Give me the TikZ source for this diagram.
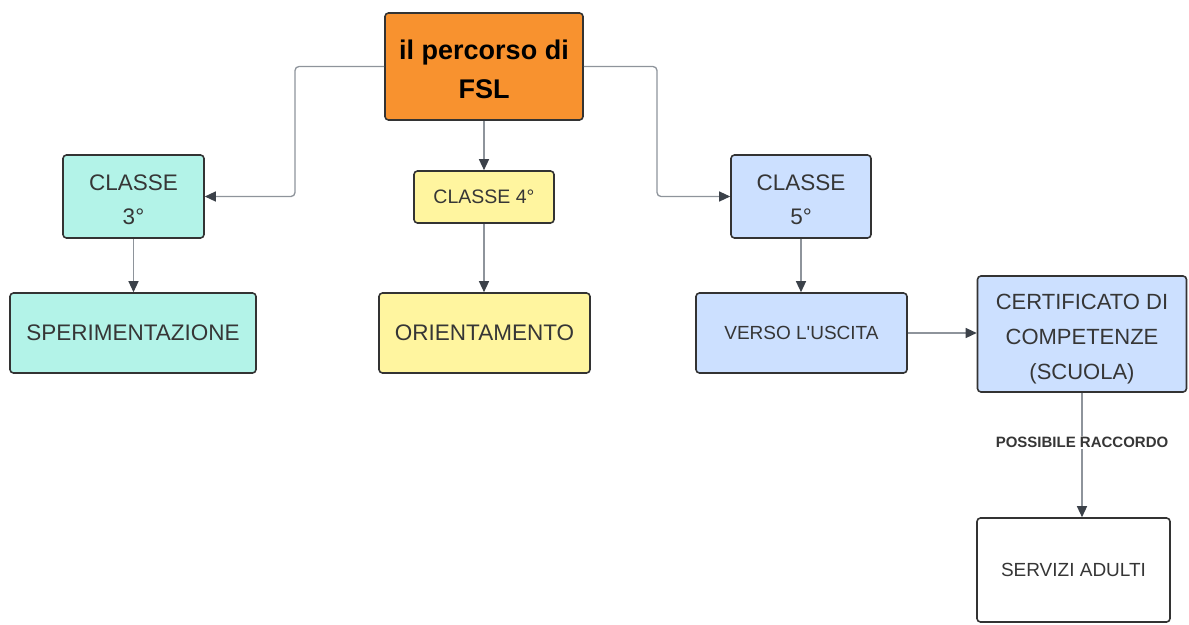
\documentclass[tikz,border=0pt]{standalone}
\usepackage{fontspec}
\setmainfont{Liberation Sans}
\usetikzlibrary{arrows.meta}
\definecolor{orangeF}{HTML}{F8922F}
\definecolor{tealF}{HTML}{B3F3E8}
\definecolor{yellowF}{HTML}{FFF59F}
\definecolor{blueF}{HTML}{CCE0FF}
\definecolor{borderC}{HTML}{333333}
\definecolor{lineC}{HTML}{8E949B}
\definecolor{tipC}{HTML}{3B4149}
\definecolor{txtC}{HTML}{363636}
\newcommand{\lift}[1]{\rule{0pt}{#1}}
\tikzset{
  box/.style={rectangle, draw=borderC, line width=1.6pt, rounded corners=3.5pt, align=center, inner sep=0pt, text=txtC},
  conn/.style={draw=lineC, line width=1.3pt, rounded corners=4pt, -{Triangle[length=11pt,width=10pt,color=tipC]}},
}
\begin{document}
\begin{tikzpicture}[x=1pt,y=-1pt]
\useasboundingbox (0,0) rectangle (1189,624);
\node[box, fill=orangeF, text=black, minimum width=198pt, minimum height=107pt,
  font=\fontsize{27}{39}\selectfont\bfseries] (top) at (484,66.5) {\lift{25.5pt}il percorso di\\FSL};
\node[box, fill=tealF, minimum width=141pt, minimum height=83pt,
  font=\fontsize{22.5}{34}\selectfont] (c3) at (133.5,196.5) {\lift{23pt}CLASSE\\3°};
\node[box, fill=yellowF, minimum width=140pt, minimum height=52pt,
  font=\fontsize{19.5}{24}\selectfont] (c4) at (484,197) {CLASSE 4°};
\node[box, fill=blueF, minimum width=140pt, minimum height=83pt,
  font=\fontsize{22.5}{34}\selectfont] (c5) at (801,196.5) {\lift{23pt}CLASSE\\5°};
\node[box, fill=tealF, minimum width=246pt, minimum height=80pt,
  font=\fontsize{22.5}{28}\selectfont] (sper) at (133,333) {SPERIMENTAZIONE};
\node[box, fill=yellowF, minimum width=211pt, minimum height=80pt,
  font=\fontsize{22.5}{28}\selectfont] (orient) at (484.5,333) {ORIENTAMENTO};
\node[box, fill=blueF, minimum width=211pt, minimum height=80pt,
  font=\fontsize{19}{24}\selectfont] (verso) at (801.5,333) {VERSO L\textquotesingle USCITA};
\node[box, fill=blueF, minimum width=209pt, minimum height=116pt,
  font=\fontsize{22}{35}\selectfont] (cert) at (1082,334) {\lift{26pt}CERTIFICATO DI\\COMPETENZE\\(SCUOLA)};
\node[box, fill=white, minimum width=193pt, minimum height=104pt,
  font=\fontsize{19}{24}\selectfont] (serv) at (1073.5,570) {SERVIZI ADULTI};
\coordinate (lk) at (295,66.5);
\coordinate (rk) at (657,66.5);
\draw[conn] (top.west) -- (lk) |- (c3.east);
\draw[conn] (top.east) -- (rk) |- (c5.west);
\draw[conn] (top.south) -- (c4.north);
\draw[conn] (c3.south) -- (c3.south |- sper.north);
\draw[conn] (c4.south) -- (c4.south |- orient.north);
\draw[conn] (c5.south) -- (c5.south |- verso.north);
\draw[conn] (verso.east) -- (verso.east -| cert.west);
\draw[conn] (cert.south) -- node[fill=white, inner sep=1pt, text=txtC, font=\fontsize{15}{18}\selectfont\bfseries, pos=0.4] (lbl) {POSSIBILE RACCORDO} (cert.south |- serv.north);
\end{tikzpicture}
\end{document}
